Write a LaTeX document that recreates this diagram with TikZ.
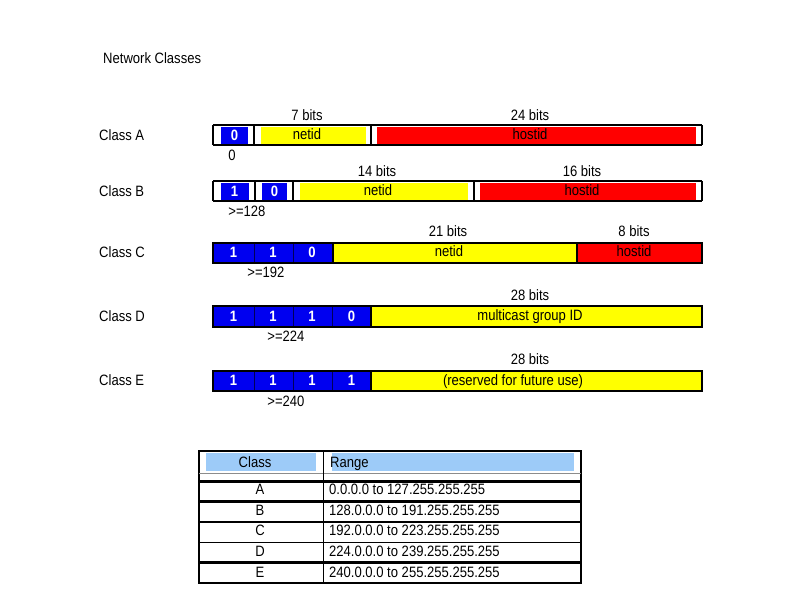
\documentclass[tikz,border=0pt]{standalone}
\usepackage{fontspec}
\setmainfont[FakeStretch=0.87]{Liberation Sans}
\definecolor{cblue}{RGB}{0,0,240}
\definecolor{cyellow}{RGB}{255,255,0}
\definecolor{cred}{RGB}{255,0,0}
\definecolor{cnavy}{RGB}{0,0,90}
\definecolor{hdrblue}{RGB}{157,203,248}
\begin{document}
\begin{tikzpicture}[x=1pt,y=-1pt,
  txt/.style={inner sep=0pt, text height=10.7pt, text depth=0pt, font=\fontsize{15}{17}\selectfont},
  dig/.style={txt, text=white, font=\fontsize{15}{17}\selectfont\bfseries},
  barline/.style={draw=black, line width=2pt},
  divline/.style={draw=cnavy, line width=1pt},
  gridthick/.style={draw=black, line width=2.2pt},
  gridmid/.style={draw=black, line width=1.6pt},
  gridthin/.style={draw=black, line width=1.1pt}]
\useasboundingbox (0,0) rectangle (796,600);

% title
\node[txt, anchor=west] (title) at (103,58) {Network Classes};

% ---------- Class A ----------
\node[txt, anchor=west] (la) at (99,135) {Class A};
\fill[white] (213,125) rectangle (702,145);
\fill[cblue] (221,127) rectangle (248,144);
\fill[cyellow] (261,127) rectangle (366,144);
\fill[cred] (377,127) rectangle (696,144);
\draw[barline] (213,125) -- (702,125) (213,145) -- (702,145);
\draw[barline] (213,125) -- (213,145) (254,125) -- (254,145) (371,125) -- (371,145) (702,125) -- (702,145);
\node[dig] (a0) at (234.5,135) {0};
\node[txt] (anet) at (307,134) {netid};
\node[txt] (ahost) at (530,134) {hostid};
\node[txt] (abits1) at (307,115) {7 bits};
\node[txt] (abits2) at (530,115) {24 bits};
\node[txt] (aval) at (232,155.5) {0};

% ---------- Class B ----------
\node[txt, anchor=west] (lb) at (99,191) {Class B};
\fill[white] (213,181) rectangle (702,201);
\fill[cblue] (221,183) rectangle (249,200);
\fill[cblue] (262,183) rectangle (287,200);
\fill[cyellow] (300,183) rectangle (468,200);
\fill[cred] (480,183) rectangle (696,200);
\draw[barline] (213,181) -- (702,181) (213,201) -- (702,201);
\draw[barline] (213,181) -- (213,201) (255,181) -- (255,201) (293,181) -- (293,201) (474,181) -- (474,201) (702,181) -- (702,201);
\node[dig] (b1) at (234.5,191) {1};
\node[dig] (b0) at (274.5,191) {0};
\node[txt] (bnet) at (378,190.5) {netid};
\node[txt] (bhost) at (582,190.5) {hostid};
\node[txt] (bbits1) at (377,171.5) {14 bits};
\node[txt] (bbits2) at (582,171.5) {16 bits};
\node[txt] (bval) at (247,211.5) {>=128};

% ---------- Class C ----------
\node[txt, anchor=west] (lc) at (99,252.5) {Class C};
\fill[cblue] (213,242.5) rectangle (333,263);
\fill[cyellow] (333,242.5) rectangle (577,263);
\fill[cred] (577,242.5) rectangle (702,263);
\draw[divline] (254,242.5) -- (254,263) (293,242.5) -- (293,263);
\draw[barline] (333,242.5) -- (333,263);
\draw[gridmid] (577,242.5) -- (577,263);
\draw[barline] (213,242.5) rectangle (702,263);
\node[dig] (c1) at (233.5,252.5) {1};
\node[dig] (c2) at (273,252.5) {1};
\node[dig] (c3) at (312,252.5) {0};
\node[txt] (cnet) at (449,251.5) {netid};
\node[txt] (chost) at (634,251.5) {hostid};
\node[txt] (cbits1) at (448,231) {21 bits};
\node[txt] (cbits2) at (634,231) {8 bits};
\node[txt] (cval) at (266,272) {>=192};

% ---------- Class D ----------
\node[txt, anchor=west] (ld) at (99,316.5) {Class D};
\fill[cblue] (213,306) rectangle (371,326.5);
\fill[cyellow] (371,306) rectangle (702,326.5);
\draw[divline] (254,306) -- (254,326.5) (293,306) -- (293,326.5) (332,306) -- (332,326.5);
\draw[barline] (371,306) -- (371,326.5);
\draw[barline] (213,306) rectangle (702,326.5);
\node[dig] (d1) at (233.5,316) {1};
\node[dig] (d2) at (273,316) {1};
\node[dig] (d3) at (312,316) {1};
\node[dig] (d4) at (351.5,316) {0};
\node[txt] (dgrp) at (530,315.5) {multicast group ID};
\node[txt] (dbits) at (530,295) {28 bits};
\node[txt] (dval) at (286,336.5) {>=224};

% ---------- Class E ----------
\node[txt, anchor=west] (le) at (99,380.5) {Class E};
\fill[cblue] (213,370.5) rectangle (371,391);
\fill[cyellow] (371,370.5) rectangle (702,391);
\draw[divline] (254,370.5) -- (254,391) (293,370.5) -- (293,391) (332,370.5) -- (332,391);
\draw[barline] (371,370.5) -- (371,391);
\draw[barline] (213,370.5) rectangle (702,391);
\node[dig] (e1) at (233.5,380.5) {1};
\node[dig] (e2) at (273,380.5) {1};
\node[dig] (e3) at (312,380.5) {1};
\node[dig] (e4) at (351.5,380.5) {1};
\node[txt] (eres) at (513,380) {(reserved for future use)};
\node[txt] (ebits) at (530,359) {28 bits};
\node[txt] (eval) at (286,401) {>=240};

% ---------- Table ----------
\fill[hdrblue] (206,453) rectangle (316,471);
\fill[hdrblue] (332,453) rectangle (574,471);
\draw[gridthin] (199,451) rectangle (581,583);
\draw[draw=black!45, line width=0.8pt] (199,473.5) -- (581,473.5);
\draw[gridthick] (199,481.5) -- (581,481.5);
\draw[gridthick] (199,501.5) -- (581,501.5);
\draw[gridmid] (199,522) -- (581,522);
\draw[gridmid] (199,542.5) -- (581,542.5);
\draw[gridthick] (199,562.5) -- (581,562.5);
\draw[gridmid] (323.5,451) -- (323.5,583);
\node[txt] (hclass) at (255,462) {Class};
\node[txt, anchor=west] (hrange) at (330,462) {Range};
\node[txt] (ta) at (260,489.5) {A};
\node[txt, anchor=west] (ra) at (329,489.5) {0.0.0.0 to 127.255.255.255};
\node[txt] (tb) at (260,510) {B};
\node[txt, anchor=west] (rb) at (329,510) {128.0.0.0 to 191.255.255.255};
\node[txt] (tc) at (260,530.5) {C};
\node[txt, anchor=west] (rc) at (329,530.5) {192.0.0.0 to 223.255.255.255};
\node[txt] (td) at (260,551) {D};
\node[txt, anchor=west] (rd) at (329,551) {224.0.0.0 to 239.255.255.255};
\node[txt] (te) at (260,572.5) {E};
\node[txt, anchor=west] (re) at (329,572.5) {240.0.0.0 to 255.255.255.255};
\end{tikzpicture}
\end{document}
